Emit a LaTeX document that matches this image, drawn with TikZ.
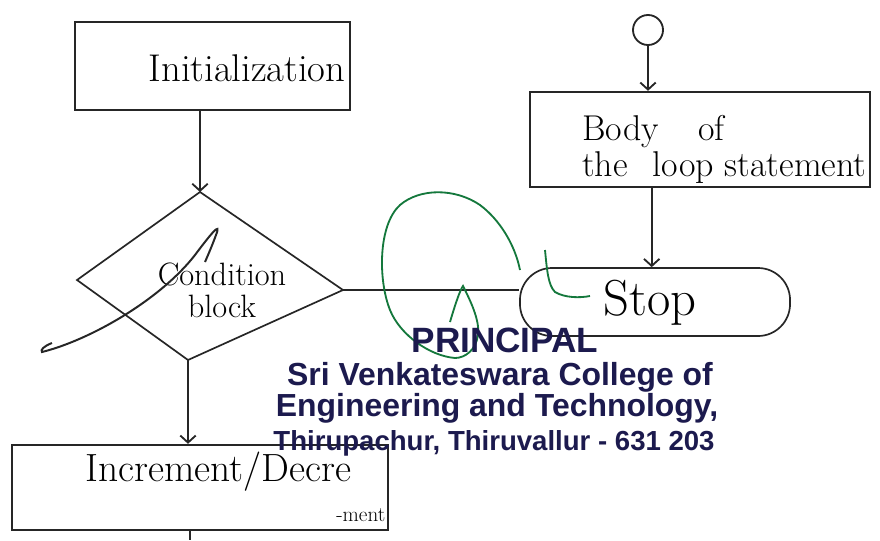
\documentclass[tikz,border=0pt]{standalone}
\usepackage{fontspec}
\newfontfamily\stampfont{Liberation Sans}
\usetikzlibrary{arrows.meta,calc}
\definecolor{stampblue}{RGB}{28,26,78}
\definecolor{sigink}{RGB}{20,120,60}
\begin{document}
\begin{tikzpicture}[x=0.025cm,y=-0.025cm,
  boxink/.style={draw=black!85, line width=1.7pt, inner sep=0pt},
  thinink/.style={draw=black!85, line width=1.2pt},
  arr/.style={draw=black!85, line width=1.3pt, -{Straight Barb[length=5pt,width=11pt]}},
  hand/.style={font=\fontsize{#1}{#1}\selectfont, inner sep=0pt},
  hand/.default=22,
  stamp/.style={font=\stampfont\bfseries\fontsize{#1}{#1}\selectfont, text=stampblue, inner sep=0pt},
  sigstroke/.style={draw=sigink, line width=1.3pt},
  scribble/.style={draw=black!85, line width=1.4pt}
]
\useasboundingbox (0,0) rectangle (880,540);
\fill[white] (0,0) rectangle (880,540);

% boxes
\node[boxink, rectangle, minimum width=6.875cm, minimum height=2.2cm] (init) at (212.5,66) {};
\node[hand=27.5] (inittxt) at (247,68) {Initialization};

\node[boxink, rectangle, minimum width=8.5cm, minimum height=2.375cm] (body) at (700,139.5) {};
\node[hand=25.5, anchor=west, align=left] (bodytxt) at (582,149) {Body\hspace{1.1em}of\\the\hspace{0.7em}loop statement};

\node[boxink, rectangle, minimum width=9.4cm, minimum height=2.125cm] (inc) at (200,487.5) {};
\node[hand=28, anchor=base west] (inctxt) at (85,481) {Increment/Decre};
\node[hand=15, anchor=base west] (inctxt2) at (336,521) {-ment};

\node[boxink, rectangle, rounded corners=0.8cm, minimum width=6.75cm, minimum height=1.7cm, line width=1.2pt] (stop) at (655,302) {};
\node[hand=36] (stoptxt) at (650,303) {Stop};

\node[boxink, circle, minimum size=0.75cm, line width=1.3pt] (start) at (648,30) {};

% diamond
\coordinate (dtop) at (200,192);
\coordinate (dleft) at (77,280);
\coordinate (dright) at (343,290);
\coordinate (dbot) at (188,360);
\draw[thinink] (dtop) -- (dright) -- (dbot) -- (dleft) -- cycle;
\node[hand=23, align=center] (condtxt) at (222,290) {Condition\\block};

% connectors
\draw[arr] (start.south) -- (start.south |- body.north);
\coordinate (bodyout) at ($(body.south west)!0.359!(body.south east)$);
\draw[arr] (bodyout) -- (bodyout |- stop.north);
\coordinate (initout) at (init.south -| dtop);
\draw[arr] (initout) -- (dtop);
\draw[arr] (dbot) -- (dbot |- inc.north);
\draw[thinink, line width=0.9pt] (dright) -- (dright -| stop.west);
\coordinate (incout) at (190,540);
\draw[thinink] (inc.south -| incout) -- (incout);

% black scribble
\draw[scribble] (52,343) .. controls (44,346) and (40,350) .. (42,352)
  .. controls (90,340) and (160,300) .. (195,255)
  .. controls (210,235) and (222,220) .. (216,235)
  .. controls (212,246) and (208,255) .. (205,262);

% green signature
\draw[sigstroke] (450,322) .. controls (455,305) and (460,290) .. (463,286)
  .. controls (470,300) and (480,320) .. (478,335)
  .. controls (476,350) and (465,358) .. (455,358)
  .. controls (430,356) and (400,335) .. (390,310)
  .. controls (378,280) and (378,225) .. (400,205)
  .. controls (420,188) and (455,188) .. (480,205)
  .. controls (500,220) and (515,245) .. (520,270);
\draw[sigstroke] (545,250) .. controls (547,270) and (548,285) .. (555,292)
  .. controls (565,298) and (580,298) .. (590,296);

% stamp
\node[stamp=25] (st1) at (505,340) {PRINCIPAL};
\node[stamp=22.7] (st2) at (500,377) {Sri Venkateswara College of};
\node[stamp=22.7] (st3) at (497,408) {Engineering and Technology,};
\node[stamp=19.6] (st4) at (494,443) {Thirupachur, Thiruvallur - 631 203};
\end{tikzpicture}
\end{document}
